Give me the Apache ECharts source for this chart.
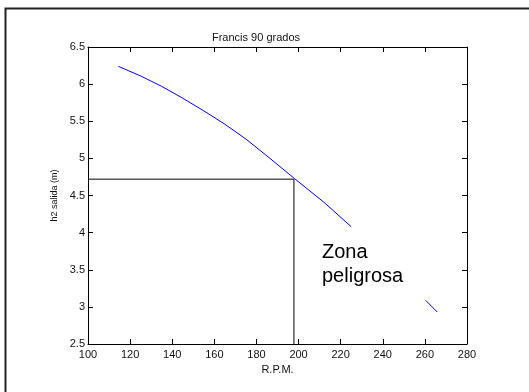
<!DOCTYPE html>
<html>
<head>
<meta charset="utf-8">
<script src="https://cdn.jsdelivr.net/npm/echarts@6/dist/echarts.min.js"></script>
<style>
html,body{margin:0;padding:0;background:#fff;}
#chart{width:529px;height:392px;}
</style>
</head>
<body>
<div id="chart"></div>
<script>
// Data
const curveRpm = [114.4, 125, 135, 145, 155, 165, 175, 186, 198, 212, 225];
const curveH   = [6.24, 6.11, 5.97, 5.81, 5.64, 5.46, 5.26, 5.01, 4.73, 4.41, 4.08];
const tailRpm  = [260.3, 265.9];
const tailH    = [3.09, 2.93];
const refRpm   = [100, 197.8, 197.8];
const refH     = [4.72, 4.72, 2.5];
const xTicks   = [100, 120, 140, 160, 180, 200, 220, 240, 260, 280];
const yTicks   = [2.5, 3, 3.5, 4, 4.5, 5, 5.5, 6, 6.5];

const zip = (a, b) => a.map((v, i) => [v, b[i]]);
const font = 'Liberation Sans, Arial, sans-serif';
const chart = echarts.init(document.getElementById('chart'), null, {renderer: 'canvas'});

const baseX = {
  type: 'value', min: xTicks[0], max: xTicks[xTicks.length - 1], interval: 20,
  splitLine: {show: false},
  axisLine: {show: true, onZero: false, lineStyle: {color: '#000', width: 1}},
  axisTick: {show: true, inside: true, length: 5, lineStyle: {color: '#000'}},
};
const baseY = {
  type: 'value', min: yTicks[0], max: yTicks[yTicks.length - 1], interval: 0.5,
  splitLine: {show: false},
  axisLine: {show: true, onZero: false, lineStyle: {color: '#000', width: 1}},
  axisTick: {show: true, inside: true, length: 5, lineStyle: {color: '#000'}},
};

chart.setOption({
  animation: false,
  backgroundColor: '#fff',
  title: {
    text: 'Francis 90 grados', left: 251, top: 27, textAlign: 'center',
    textStyle: {fontFamily: font, fontSize: 11, fontWeight: 'normal', color: '#111'}
  },
  grid: {left: 88, right: 62, top: 47, bottom: 48, containLabel: false},
  xAxis: [
    Object.assign({}, baseX, {
      position: 'bottom',
      name: 'R.P.M.', nameLocation: 'middle', nameGap: 18,
      nameTextStyle: {fontFamily: font, fontSize: 11, color: '#111'},
      axisLabel: {show: true, margin: 5, fontFamily: font, fontSize: 11, color: '#111'}
    }),
    Object.assign({}, baseX, {position: 'top', axisLabel: {show: false}})
  ],
  yAxis: [
    Object.assign({}, baseY, {
      position: 'left',
      name: 'h2 salida (m)', nameLocation: 'middle', nameGap: 28,
      nameTextStyle: {fontFamily: font, fontSize: 9, color: '#111'},
      axisLabel: {show: true, margin: 3, fontFamily: font, fontSize: 11, color: '#111'}
    }),
    Object.assign({}, baseY, {position: 'right', axisLabel: {show: false}})
  ],
  graphic: [
    {type: 'polyline', silent: true, shape: {points: [[5.5, 392], [5.5, 8.5], [529, 8.5]]},
     style: {stroke: '#222', lineWidth: 2, fill: null}},
    {type: 'text', left: 322, top: 240, silent: true,
     style: {text: 'Zona\npeligrosa', fontFamily: font, fontSize: 20, lineHeight: 24, fill: '#000'}}
  ],
  series: [
    {type: 'line', xAxisIndex: 0, yAxisIndex: 0, data: zip(curveRpm, curveH), showSymbol: false,
     lineStyle: {color: '#0000ff', width: 1}},
    {type: 'line', xAxisIndex: 0, yAxisIndex: 0, data: zip(tailRpm, tailH), showSymbol: false,
     lineStyle: {color: '#0000ff', width: 1}},
    {type: 'line', xAxisIndex: 0, yAxisIndex: 0, data: zip(refRpm, refH), showSymbol: false,
     lineStyle: {color: '#000', width: 1}}
  ]
});
</script>
</body>
</html>
